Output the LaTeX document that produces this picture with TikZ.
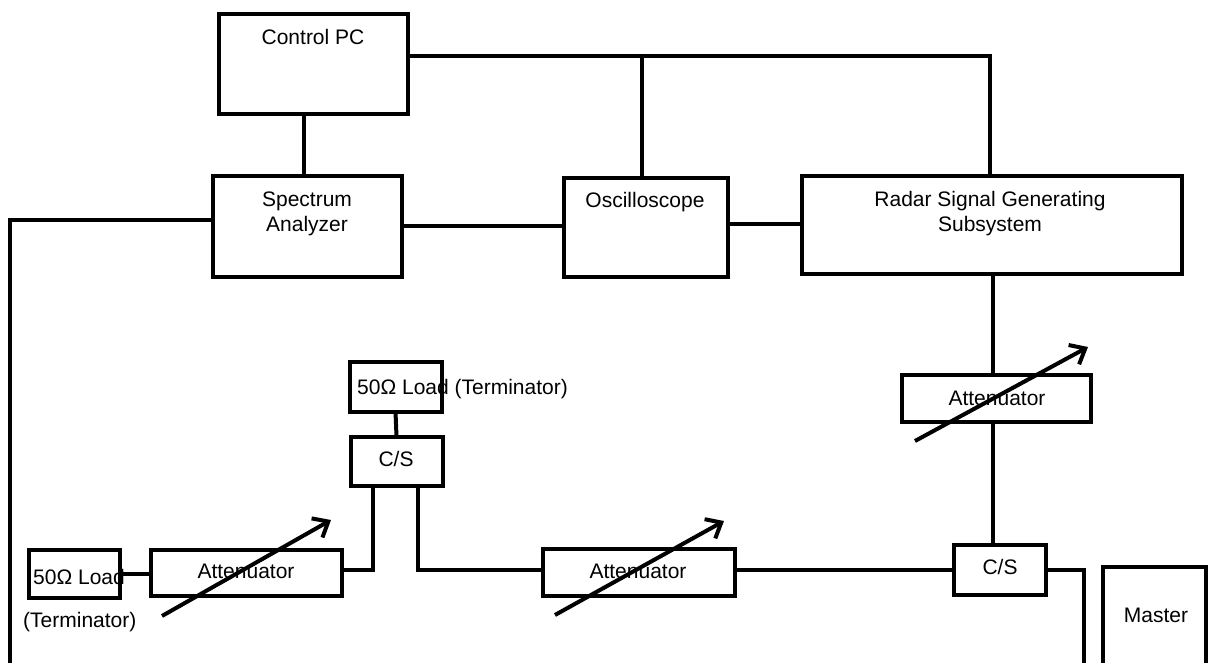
\documentclass[tikz,border=0pt]{standalone}
\usepackage{fontspec}
\setmainfont{Liberation Sans}
\usetikzlibrary{arrows.meta,calc}
\begin{document}
\begin{tikzpicture}[x=1pt,y=-1pt,
  box/.style={draw,line width=4pt,inner sep=0pt,outer sep=0pt},
  lbl/.style={inner sep=0pt,anchor=base,font=\fontsize{21}{25}\selectfont},
  lbll/.style={lbl,anchor=base west},
  conn/.style={line width=4pt},
  varr/.style={line width=4pt,-{Straight Barb[length=13pt,width=22pt]}}]
\useasboundingbox (0,0) rectangle (1208,663);
% boxes
\node[box,minimum width=189pt,minimum height=100pt] (pc) at (313,64.5) {};
\node[box,minimum width=189pt,minimum height=101pt] (sa) at (307,226.5) {};
\node[box,minimum width=164pt,minimum height=99pt] (osc) at (645.5,228) {};
\node[box,minimum width=380pt,minimum height=98pt] (radar) at (991.5,225.5) {};
\node[box,minimum width=189pt,minimum height=47pt] (attR) at (996,398) {};
\node[box,minimum width=92pt,minimum height=50pt] (csR) at (999.5,569.5) {};
\node[box,minimum width=103pt,minimum height=100pt] (master) at (1154.5,617) {};
\node[box,minimum width=192pt,minimum height=47pt] (attM) at (638.5,572) {};
\node[box,minimum width=92pt,minimum height=49pt] (csM) at (396.5,461) {};
\node[box,minimum width=92pt,minimum height=50pt] (loadM) at (395.5,386.5) {};
\node[box,minimum width=191pt,minimum height=46pt] (attL) at (246,572.5) {};
\node[box,minimum width=91pt,minimum height=48pt] (loadL) at (74,573.5) {};
% texts
\node[lbl] (tpc) at (313,44.5) {Control PC};
\node[lbl] (tsa1) at (307,206.5) {Spectrum};
\node[lbl] (tsa2) at (307,231.5) {Analyzer};
\node[lbl] (tosc) at (645,208) {Oscilloscope};
\node[lbl] (trad1) at (990,206.5) {Radar Signal Generating};
\node[lbl] (trad2) at (990,231.5) {Subsystem};
\node[lbl] (tattR) at (997,405) {Attenuator};
\node[lbl] (tattM) at (638,578) {Attenuator};
\node[lbl] (tattL) at (246,578) {Attenuator};
\node[lbl] (tcsM) at (396,466) {C/S};
\node[lbl] (tcsR) at (1000,574) {C/S};
\node[lbl] (tmaster) at (1156,622) {Master};
\node[lbll] (tloadM) at (357,394) {50Ω Load (Terminator)};
\node[lbll] (tloadL) at (33,584) {50Ω Load};
\node[lbll] (tterm) at (23,627) {(Terminator)};
% junction coordinates
\coordinate (j1) at (642,56);
\coordinate (j2) at (990,56);
\coordinate (cL) at (10,220);
\coordinate (cLb) at (10,670);
\coordinate (cR) at (1084,570);
\coordinate (cRb) at (1084,670);
\coordinate (m1) at (418,570);
\coordinate (m2) at (373,570);
\coordinate (oe) at ([yshift=4pt]osc.east);
\coordinate (pcs) at ([xshift=-9pt]pc.south);
\coordinate (arn) at ([xshift=-3pt]attR.north);
\coordinate (ars) at ([xshift=-3pt]attR.south);
% connectors
\draw[conn] (pc.east |- j2) -- (j2) -- (radar.north -| j2);
\draw[conn] (j1) -- (j1 |- osc.north);
\draw[conn] (pcs) -- (pcs |- sa.north);
\draw[conn] (sa.west |- cL) -- (cL) -- (cLb);
\draw[conn] (sa.east) -- (osc.west |- sa.east);
\draw[conn] (oe) -- (radar.west |- oe);
\draw[conn] (arn) -- (arn |- radar.south);
\draw[conn] (ars) -- (ars |- csR.north);
\draw[conn] (csR.east |- cR) -- (cR) -- (cRb);
\draw[conn] (csR.west) -- (attM.east |- csR.west);
\draw[conn] (attM.west |- m1) -- (m1) -- (m1 |- csM.south);
\draw[conn] (m2 |- csM.south) -- (m2) -- (attL.east |- m2);
\draw[conn] (loadM.south) -- (csM.north);
\draw[conn] (loadL.east) -- (attL.west |- loadL.east);
% variable attenuator arrows
\draw[varr] ([shift={(-84,43.5)}]attL.center) -- ([shift={(85,-52.5)}]attL.center);
\draw[varr] ([shift={(-83.5,43)}]attM.center) -- ([shift={(85.5,-51)}]attM.center);
\draw[varr] ([shift={(-81,43)}]attR.center) -- ([shift={(92,-51)}]attR.center);
\end{tikzpicture}
\end{document}
